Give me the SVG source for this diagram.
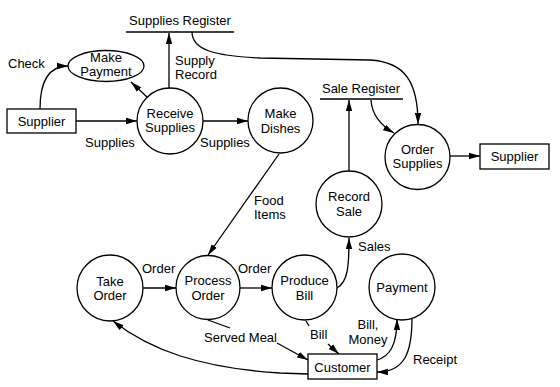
<svg xmlns="http://www.w3.org/2000/svg" width="560" height="387" viewBox="0 0 560 387">
  <style>
    .proc { fill: #fff; stroke: #000; stroke-width: 1.3; }
    .ext { fill: #fff; stroke: #000; stroke-width: 1.3; }
    .store { stroke: #000; stroke-width: 1.3; }
    .flow { fill: none; stroke: #000; stroke-width: 1.3; }
    text { font-family: "Liberation Sans", Arial, sans-serif; font-size: 13px; fill: #000; }
    .c { text-anchor: middle; }
  </style>
  <defs>
    <marker id="arr" markerUnits="userSpaceOnUse" markerWidth="12" markerHeight="8" refX="11" refY="4" orient="auto">
      <path d="M0,0.8 L11,4 L0,7.2 Z" fill="#000"/>
    </marker>
  </defs>
  <rect width="560" height="387" fill="#fff"/>

  <!-- data stores -->
  <g id="supplies-register">
    <text class="c" x="180" y="25">Supplies Register</text>
    <line class="store" x1="126" y1="32" x2="234" y2="32"/>
  </g>
  <g id="sale-register">
    <text class="c" x="361" y="93">Sale Register</text>
    <line class="store" x1="320" y1="99" x2="403" y2="99"/>
  </g>

  <!-- connectors -->
  <g id="connectors">
    <path class="flow" d="M40,109 C40,82 48,66 68,66" marker-end="url(#arr)"/>
    <line class="flow" x1="147" y1="97" x2="131" y2="82" marker-end="url(#arr)"/>
    <line class="flow" x1="169" y1="89" x2="169" y2="33" marker-end="url(#arr)"/>
    <line class="flow" x1="76" y1="121" x2="137" y2="121" marker-end="url(#arr)"/>
    <line class="flow" x1="203" y1="121" x2="248" y2="121" marker-end="url(#arr)"/>
    <path class="flow" d="M192,32 C192,50 215,56 260,58 L370,60 C405,62 418,82 418,124" marker-end="url(#arr)"/>
    <path class="flow" d="M371,100 C372,115 380,125 394,133" marker-end="url(#arr)"/>
    <line class="flow" x1="450" y1="156" x2="480" y2="156" marker-end="url(#arr)"/>
    <line class="flow" x1="349" y1="171" x2="349" y2="100" marker-end="url(#arr)"/>
    <line class="flow" x1="279" y1="154" x2="208" y2="255" marker-end="url(#arr)"/>
    <line class="flow" x1="143" y1="288" x2="176" y2="288" marker-end="url(#arr)"/>
    <line class="flow" x1="240" y1="288" x2="272" y2="288" marker-end="url(#arr)"/>
    <path class="flow" d="M337,288 C348,282 349,266 349,238" marker-end="url(#arr)"/>
    <line class="flow" x1="208" y1="320" x2="230" y2="328"/>
    <line class="flow" x1="277" y1="343" x2="308" y2="360" marker-end="url(#arr)"/>
    <line class="flow" x1="306" y1="321" x2="309" y2="326"/>
    <line class="flow" x1="328" y1="344" x2="339" y2="354" marker-end="url(#arr)"/>
    <path class="flow" d="M308,374 L280,373 C200,368 150,350 113,321" marker-end="url(#arr)"/>
    <path class="flow" d="M377,360 C390,356 397,345 397,319" marker-end="url(#arr)"/>
    <path class="flow" d="M412,318 C412,352 405,372 377,372" marker-end="url(#arr)"/>
  </g>

  <!-- connector labels -->
  <g id="labels">
    <text x="8" y="68">Check</text>
    <text x="175" y="65">Supply</text>
    <text x="175" y="79">Record</text>
    <text x="85" y="147">Supplies</text>
    <text x="200" y="147">Supplies</text>
    <text x="254" y="205">Food</text>
    <text x="254" y="219">Items</text>
    <text x="142" y="273">Order</text>
    <text x="238" y="273">Order</text>
    <text x="358" y="251">Sales</text>
    <text x="204" y="342">Served Meal</text>
    <text x="310" y="339">Bill</text>
    <text class="c" x="368" y="329">Bill,</text>
    <text class="c" x="368" y="344">Money</text>
    <text x="413" y="364">Receipt</text>
  </g>

  <!-- external entities -->
  <g id="supplier-in">
    <rect class="ext" x="7" y="109" width="69" height="24"/>
    <text class="c" x="41.5" y="125.5">Supplier</text>
  </g>
  <g id="supplier-out">
    <rect class="ext" x="480" y="144" width="69" height="25"/>
    <text class="c" x="514.5" y="161">Supplier</text>
  </g>
  <g id="customer">
    <rect class="ext" x="308" y="354" width="69" height="25"/>
    <text class="c" x="342.5" y="371.5">Customer</text>
  </g>

  <!-- processes -->
  <g id="make-payment">
    <ellipse class="proc" cx="106" cy="66" rx="38" ry="15.5"/>
    <text class="c" x="106" y="61.5">Make</text>
    <text class="c" x="106" y="76">Payment</text>
  </g>
  <g id="receive-supplies">
    <circle class="proc" cx="170" cy="121" r="33"/>
    <text class="c" x="170" y="118">Receive</text>
    <text class="c" x="170" y="132">Supplies</text>
  </g>
  <g id="make-dishes">
    <circle class="proc" cx="280.5" cy="120.5" r="32.5"/>
    <text class="c" x="280.5" y="118">Make</text>
    <text class="c" x="280.5" y="132.5">Dishes</text>
  </g>
  <g id="record-sale">
    <circle class="proc" cx="349" cy="204" r="33"/>
    <text class="c" x="349" y="201">Record</text>
    <text class="c" x="349" y="216">Sale</text>
  </g>
  <g id="order-supplies">
    <circle class="proc" cx="417.5" cy="157" r="32.5"/>
    <text class="c" x="417.5" y="153.5">Order</text>
    <text class="c" x="417.5" y="167.5">Supplies</text>
  </g>
  <g id="take-order">
    <circle class="proc" cx="110" cy="288" r="33"/>
    <text class="c" x="110" y="285.5">Take</text>
    <text class="c" x="110" y="300">Order</text>
  </g>
  <g id="process-order">
    <circle class="proc" cx="208" cy="287.5" r="32"/>
    <text class="c" x="208" y="285">Process</text>
    <text class="c" x="208" y="299.5">Order</text>
  </g>
  <g id="produce-bill">
    <circle class="proc" cx="304.5" cy="287.5" r="32.5"/>
    <text class="c" x="304.5" y="285">Produce</text>
    <text class="c" x="304.5" y="299.5">Bill</text>
  </g>
  <g id="payment">
    <circle class="proc" cx="402" cy="287" r="33"/>
    <text class="c" x="402" y="291.5">Payment</text>
  </g>
</svg>
